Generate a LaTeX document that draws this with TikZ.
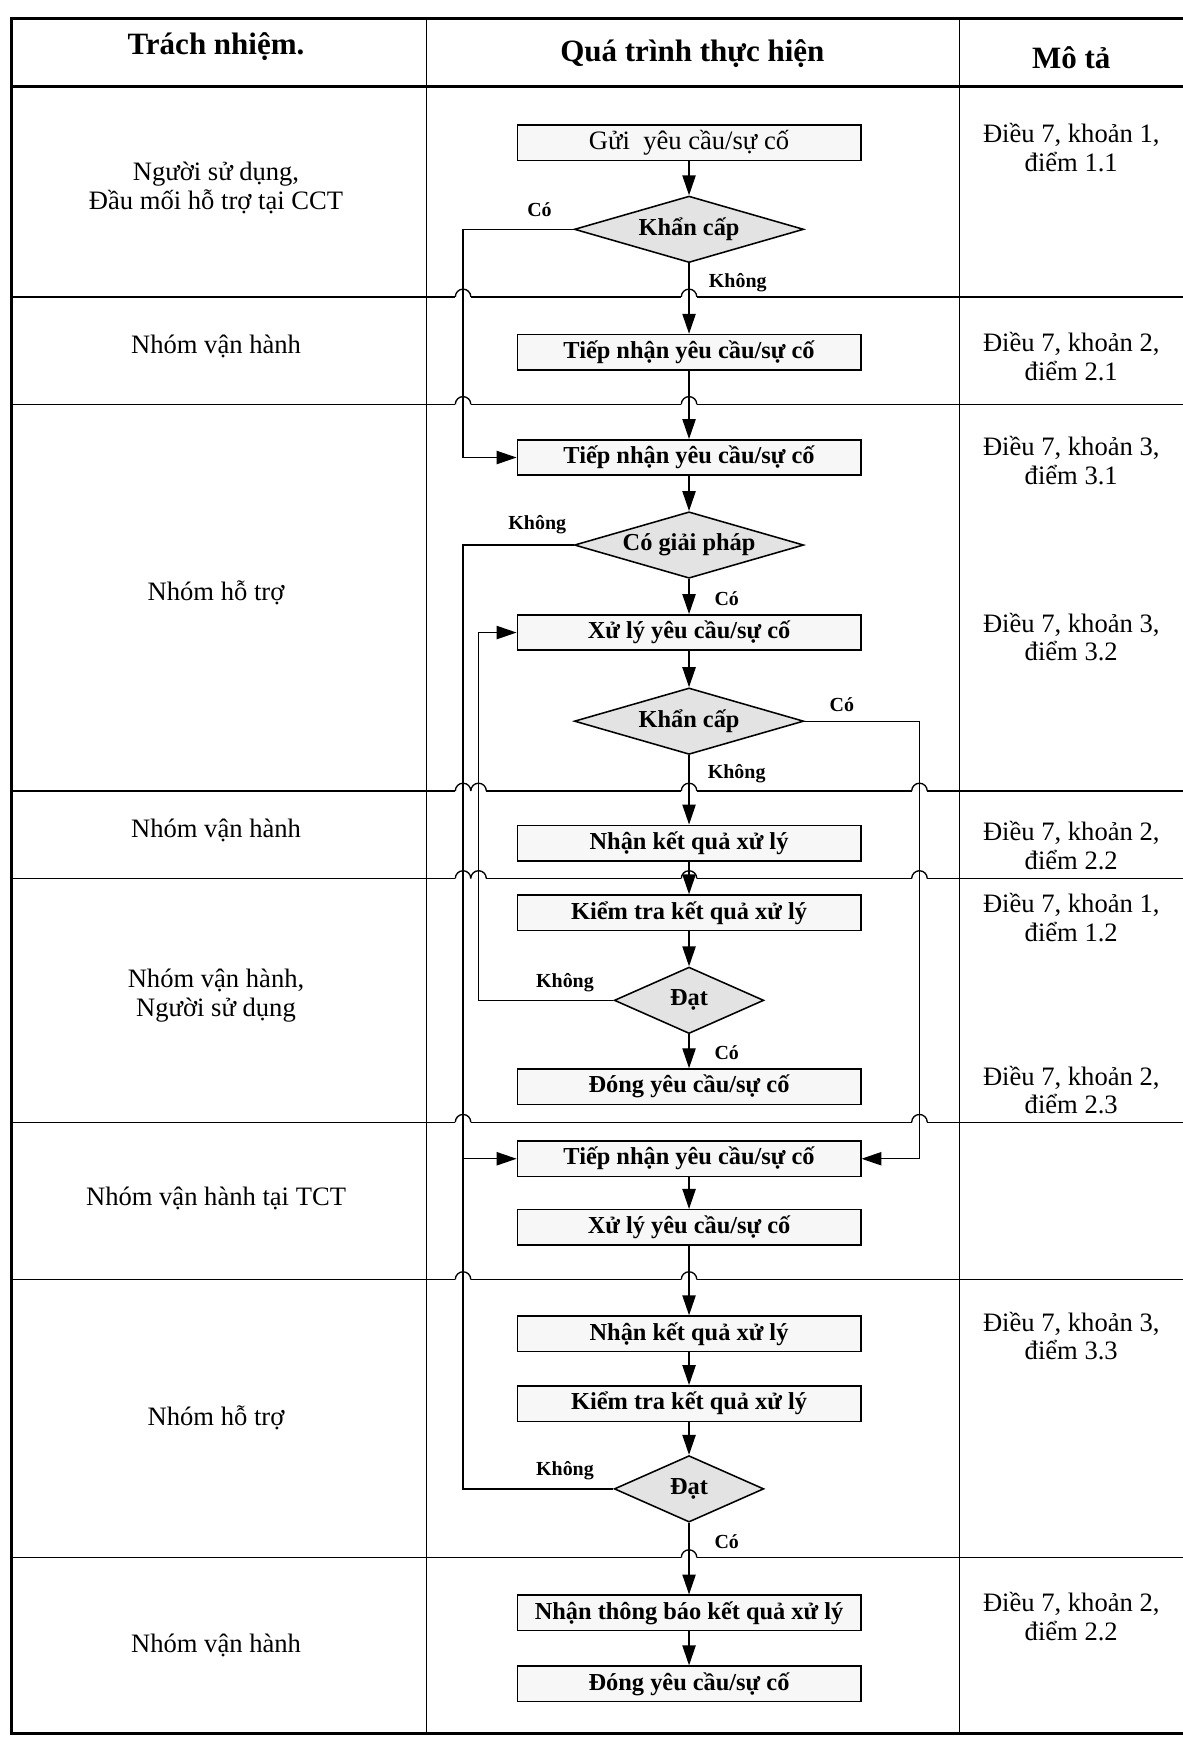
\documentclass[tikz,border=0pt]{standalone}
\usepackage{fontspec}
\setmainfont{Liberation Serif}
\usetikzlibrary{arrows.meta,shapes.geometric}

% row line across the table, hopping over the connectors at the given x
\newcommand{\hopline}[2]{%
  \draw[rowline] (10,#1) -- (1090,#1);
  \foreach \hx in {#2} {
    \fill[white] (\hx-7,#1-1.5) rectangle (\hx+7,#1+1.5);
    \draw[rowline] (\hx-7,#1) arc (180:0:7);
  }
}

\begin{document}
\begin{tikzpicture}
  [x=0.5pt, y=0.5pt, >={Triangle[length=9pt,width=6pt]},
  frame/.style={line width=1.3pt},
  colline/.style={line width=0.6pt},
  rowline/.style={line width=0.6pt},
  flow/.style={line width=0.6pt,->},
  link/.style={line width=0.6pt},
  head/.style={font=\bfseries\fontsize{14}{16}\selectfont},
  role/.style={align=center,font=\fontsize{12}{13}\selectfont},
  ref/.style={align=center,font=\fontsize{12}{13}\selectfont},
  proc/.style={draw,line width=0.7pt,fill=gray!6,minimum width=155pt,
    minimum height=16pt,inner sep=0pt,font=\bfseries\fontsize{11}{13}\selectfont},
  decide/.style={diamond,draw,line width=0.7pt,fill=gray!22,aspect=3.4,
    inner sep=0pt,minimum width=103.5pt,minimum height=30pt,
    font=\bfseries\fontsize{11}{13}\selectfont},
  ans/.style={font=\bfseries\fontsize{9}{10}\selectfont},
  ]
  \useasboundingbox (0,0) rectangle (1067,-1568);

  % table
  \draw[frame] (10,-17) rectangle (1090,-1565);
  \draw[frame] (10,-78) -- (1090,-78);
  \draw[colline] (385,-17) -- (385,-1565);
  \draw[colline] (866,-17) -- (866,-1565);

  \hopline{-268}{418,622}
  \hopline{-365}{418,622}
  \hopline{-714}{418,432,622,830}
  \hopline{-793}{418,432,622,830}
  \hopline{-1013}{418,830}
  \hopline{-1155}{418,622}
  \hopline{-1406}{622}

  \node[head] (hResp) at (195,-42) {Trách nhiệm.};
  \node[head] (hProc) at (625,-48) {Quá trình thực hiện};
  \node[head] (hDesc) at (967,-52) {Mô tả};

  % responsibilities
  \node[role] (rUser) at (195,-170) {Người sử dụng,\\Đầu mối hỗ trợ tại CCT};
  \node[role] (rOps1) at (195,-313) {Nhóm vận hành};
  \node[role] (rSup1) at (195,-535) {Nhóm hỗ trợ};
  \node[role] (rOps2) at (195,-750) {Nhóm vận hành};
  \node[role] (rOpsUser) at (195,-899) {Nhóm vận hành,\\Người sử dụng};
  \node[role] (rTCT) at (195,-1082) {Nhóm vận hành tại TCT};
  \node[role] (rSup2) at (195,-1280) {Nhóm hỗ trợ};
  \node[role] (rOps3) at (195,-1485) {Nhóm vận hành};

  % descriptions
  \node[ref] (m1) at (967,-133) {Điều 7, khoản 1,\\điểm 1.1};
  \node[ref] (m2) at (967,-322) {Điều 7, khoản 2,\\điểm 2.1};
  \node[ref] (m3) at (967,-416) {Điều 7, khoản 3,\\điểm 3.1};
  \node[ref] (m4) at (967,-575) {Điều 7, khoản 3,\\điểm 3.2};
  \node[ref] (m5) at (967,-763) {Điều 7, khoản 2,\\điểm 2.2};
  \node[ref] (m6) at (967,-828) {Điều 7, khoản 1,\\điểm 1.2};
  \node[ref] (m7) at (967,-984) {Điều 7, khoản 2,\\điểm 2.3};
  \node[ref] (m8) at (967,-1206) {Điều 7, khoản 3,\\điểm 3.3};
  \node[ref] (m9) at (967,-1459) {Điều 7, khoản 2,\\điểm 2.2};

  % flow
  \node[proc,font=\fontsize{12}{13}\selectfont] (b1) at (622,-129) {Gửi\ \ yêu cầu/sự cố};
  \node[decide] (d1) at (622,-207) {Khẩn cấp};
  \node[proc] (b2) at (622,-318) {Tiếp nhận yêu cầu/sự cố};
  \node[proc] (b3) at (622,-413) {Tiếp nhận yêu cầu/sự cố};
  \node[decide] (d2) at (622,-492) {Có giải pháp};
  \node[proc] (b4) at (622,-571) {Xử lý yêu cầu/sự cố};
  \node[decide] (d3) at (622,-651) {Khẩn cấp};
  \node[proc] (b5) at (622,-761) {Nhận kết quả xử lý};
  \node[proc] (b6) at (622,-824) {Kiểm tra kết quả xử lý};
  \node[decide,minimum width=67.5pt] (d4) at (622,-903) {Đạt};
  \node[proc] (b7) at (622,-981) {Đóng yêu cầu/sự cố};
  \node[proc] (b8) at (622,-1046) {Tiếp nhận yêu cầu/sự cố};
  \node[proc] (b9) at (622,-1108) {Xử lý yêu cầu/sự cố};
  \node[proc] (b10) at (622,-1204) {Nhận kết quả xử lý};
  \node[proc] (b11) at (622,-1267) {Kiểm tra kết quả xử lý};
  \node[decide,minimum width=67.5pt] (d5) at (622,-1344) {Đạt};
  \node[proc] (b12) at (622,-1456) {Nhận thông báo kết quả xử lý};
  \node[proc] (b13) at (622,-1520) {Đóng yêu cầu/sự cố};

  \node[ans] (a1) at (487,-189) {Có};
  \node[ans] (a2) at (666,-255) {Không};
  \node[ans] (a3) at (485,-474) {Không};
  \node[ans] (a4) at (656,-540) {Có};
  \node[ans] (a5) at (760,-636) {Có};
  \node[ans] (a6) at (665,-698) {Không};
  \node[ans] (a7) at (510,-887) {Không};
  \node[ans] (a8) at (656,-950) {Có};
  \node[ans] (a9) at (510,-1328) {Không};
  \node[ans] (a10) at (656,-1392) {Có};

  \draw[flow] (b1) -- (d1);
  \draw[flow] (d1) -- (b2);
  \draw[flow] (b2) -- (b3);
  \draw[flow] (b3) -- (d2);
  \draw[flow] (d2) -- (b4);
  \draw[flow] (b4) -- (d3);
  \draw[flow] (d3) -- (b5);
  \draw[flow] (b5) -- (b6);
  \draw[flow] (b6) -- (d4);
  \draw[flow] (d4) -- (b7);
  \draw[flow] (b8) -- (b9);
  \draw[flow] (b9) -- (b10);
  \draw[flow] (b10) -- (b11);
  \draw[flow] (b11) -- (d5);
  \draw[flow] (d5) -- (b12);
  \draw[flow] (b12) -- (b13);

  % side branches
  \coordinate (busA) at (418,0);
  \coordinate (busB) at (432,0);
  \coordinate (busC) at (830,0);
  \draw[flow] (d1.west) -- (d1.west -| busA) |- (b3.west);
  \draw[flow] (d2.west) -- (d2.west -| busA) |- (b8.west);
  \draw[link] (d5.west) -- (d5.west -| busA) -- (b8.west -| busA);
  \draw[flow] (d3.east) -- (d3.east -| busC) |- (b8.east);
  \draw[flow] (d4.west) -- (d4.west -| busB) |- (b4.west);
\end{tikzpicture}
\end{document}
